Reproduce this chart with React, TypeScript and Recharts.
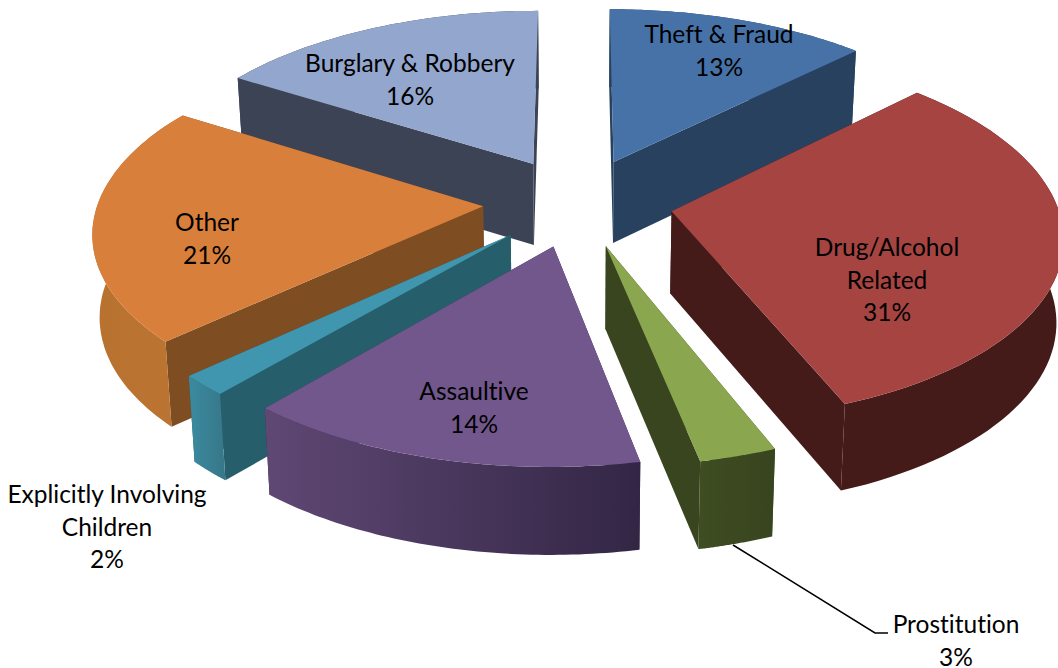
import React from 'react'
import { PieChart, Pie } from 'recharts'

const categories = ['Theft & Fraud', 'Drug/Alcohol Related', 'Prostitution', 'Assaultive', 'Explicitly Involving Children', 'Other', 'Burglary & Robbery']
const shares = [12.6, 31.5, 2.8, 14.5, 1.8, 20.9, 16.1]
const topColors = ['#4672a8', '#a64442', '#8aa64e', '#71578c', '#4096ae', '#d87f3b', '#93a6ce']
const faceColors = ['#27415f', '#451b1a', '#38451f', '#352848', '#275e6c', '#7e4d22', '#3c4355']
const rimFrom = ['#27415f', '#451b1a', '#3f4d22', '#5f4874', '#3c8a9f', '#b8722f', '#3c4355']
const rimTo = ['#27415f', '#451b1a', '#38441e', '#332645', '#367789', '#bc7433', '#3c4355']

// far slices first so the near ones cover their sides
const drawOrder = ['Burglary & Robbery', 'Theft & Fraud', 'Other', 'Drug/Alcohol Related', 'Explicitly Involving Children', 'Prostitution', 'Assaultive']

const labelLines: Record<string, string[]> = {
  'Theft & Fraud': ['Theft & Fraud', '13%'],
  'Drug/Alcohol Related': ['Drug/Alcohol', 'Related', '31%'],
  Prostitution: ['Prostitution', '3%'],
  Assaultive: ['Assaultive', '14%'],
  'Explicitly Involving Children': ['Explicitly Involving', 'Children', '2%'],
  Other: ['Other', '21%'],
  'Burglary & Robbery': ['Burglary & Robbery', '16%'],
}
const labelAnchor: Record<string, [number, number]> = {
  'Theft & Fraud': [719, 43],
  'Drug/Alcohol Related': [887, 256],
  Prostitution: [956, 633],
  Assaultive: [474, 400],
  'Explicitly Involving Children': [107, 503],
  Other: [207, 231],
  'Burglary & Robbery': [410, 72],
}

const data = categories.map((name, i) => ({ name, value: shares[i], fill: topColors[i] }))

const EXPLODE = 95
const SQUASH = 0.47
const FOCAL = 3100
const DEPTH = 82
const RAD = Math.PI / 180

function Slice3D(props: any) {
  const { cx, cy, outerRadius, startAngle, endAngle, midAngle } = props
  const name = props.name ?? props.payload?.name
  const idx = categories.indexOf(name)
  const ox = EXPLODE * Math.cos(midAngle * RAD)
  const ow = EXPLODE * Math.sin(midAngle * RAD)

  const project = (x: number, w: number, down: boolean) => {
    const s = FOCAL / (FOCAL + w)
    const px = cx + s * x
    const py = cy - s * w * SQUASH
    if (!down) return [px, py]
    return [cx + (px - cx) * 0.985, py + DEPTH * (1 + (s - 1) * 0.4)]
  }
  const tip = (down: boolean) => project(ox, ow, down)
  const edge = (a: number, down: boolean) =>
    project(ox + outerRadius * Math.cos(a * RAD), ow + outerRadius * Math.sin(a * RAD), down)

  const steps = 60
  const arc: number[] = []
  for (let i = 0; i <= steps; i++) arc.push(startAngle + ((endAngle - startAngle) * i) / steps)
  const toPath = (pts: number[][]) => 'M' + pts.map((p) => p[0].toFixed(1) + ' ' + p[1].toFixed(1)).join('L') + 'Z'

  const topPath = toPath([tip(false), ...arc.map((a) => edge(a, false))])
  const rimPath = toPath([...arc.map((a) => edge(a, false)), ...arc.slice().reverse().map((a) => edge(a, true))])
  const face = (a: number) => toPath([tip(false), edge(a, false), edge(a, true), tip(true)])

  const gradId = 'rim' + idx
  const [lx, ly] = labelAnchor[name]

  return (
    <g>
      <defs>
        <linearGradient id={gradId} x1="0" y1="0" x2="1" y2="0">
          <stop offset="0%" stopColor={rimFrom[idx]} />
          <stop offset="100%" stopColor={rimTo[idx]} />
        </linearGradient>
      </defs>
      <path d={face(startAngle)} fill={faceColors[idx]} />
      <path d={face(endAngle)} fill={faceColors[idx]} />
      <path d={rimPath} fill={`url(#${gradId})`} />
      <path d={topPath} fill={topColors[idx]} />
      {name === 'Prostitution' && (
        <polyline points="733,545 875,633 888,633" fill="none" stroke="#000" strokeWidth={1.5} />
      )}
      <text x={lx} y={ly} textAnchor="middle" fontFamily="Lato" fontSize={24.5} fill="#000" style={{ fontVariantLigatures: 'none' }}>
        {labelLines[name].map((line, i) => (
          <tspan key={i} x={lx} dy={i === 0 ? 0 : 32.5}>
            {line}
          </tspan>
        ))}
      </text>
    </g>
  )
}

export default function App() {
  return (
    <div style={{ position: 'absolute', left: 0, top: 0, width: 1058, height: 668, background: '#fff', overflow: 'hidden' }}>
      <PieChart width={1058} height={668} margin={{ top: 0, right: 0, bottom: 0, left: 0 }}>
        {drawOrder.map((target) => {
          const shape = (p: any) => ((p.name ?? p.payload?.name) === target ? <Slice3D {...p} /> : <g />)
          return (
            <Pie
              key={target}
              data={data}
              dataKey="value"
              nameKey="name"
              cx={578}
              cy={202}
              outerRadius={385}
              startAngle={90}
              endAngle={-270}
              stroke="none"
              labelLine={false}
              isAnimationActive={false}
              shape={shape}
              inactiveShape={shape}
            />
          )
        })}
      </PieChart>
    </div>
  )
}
